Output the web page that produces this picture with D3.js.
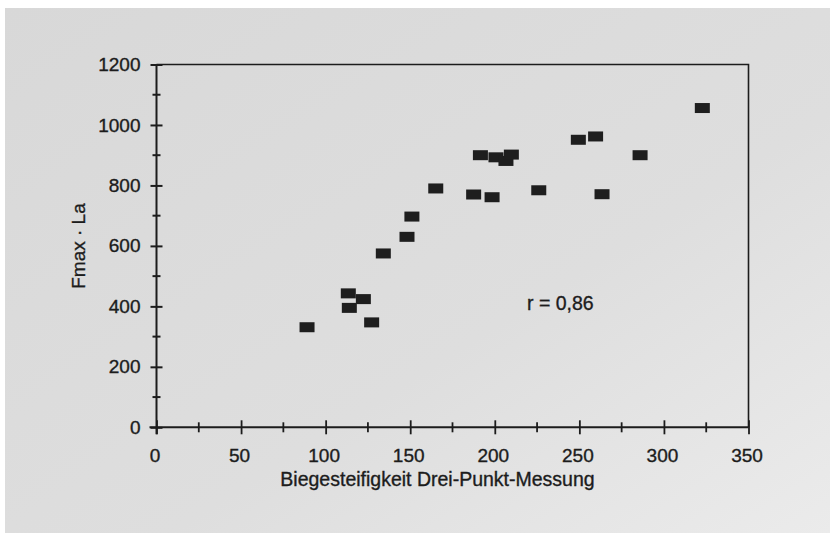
<!DOCTYPE html>
<html><head><meta charset="utf-8">
<script src="https://cdn.jsdelivr.net/npm/d3@7"></script>
<style>html,body{margin:0;padding:0;background:#fff;}svg{display:block;}</style>
</head><body>
<svg id="chart" width="830" height="533"></svg>
<script>
// Data
const xValues = [322.7, 249.4, 259.6, 285.9, 191.5, 200.7, 206.6, 209.8, 165.1, 187.5, 198.4, 226.0, 263.4, 151.0, 148.1, 134.1, 113.4, 122.3, 114.0, 127.2, 89.0];
const yValues = [1056, 951, 962, 900, 900, 893, 881, 902, 790, 770, 761, 784, 771, 697, 630, 575, 443, 424, 395, 347, 331];
const xTicks = [0, 50, 100, 150, 200, 250, 300, 350];
const xMinor = [25, 75, 125, 175, 225, 275, 325];
const yTicks = [0, 200, 400, 600, 800, 1000, 1200];
const yMinor = [100, 300, 500, 700, 900, 1100];
const xTitle = "Biegesteifigkeit Drei-Punkt-Messung";
const yTitle = "Fmax · La";
const annotation = "r = 0,86";

const W = 830, H = 533;
const m = {left: 156.5, top: 64.5, right: 748.5, bottom: 427.3};
const svg = d3.select("#chart");

const defs = svg.append("defs");
const grad = defs.append("linearGradient").attr("id","bg").attr("x1","0").attr("y1","0").attr("x2","1").attr("y2","1");
grad.append("stop").attr("offset","0").attr("stop-color","#d8d8d8");
grad.append("stop").attr("offset","0.6").attr("stop-color","#dedede");
grad.append("stop").attr("offset","1").attr("stop-color","#ebebeb");

svg.append("rect").attr("width",W).attr("height",H).attr("fill","#ffffff");
svg.append("rect").attr("x",5).attr("y",8).attr("width",W-5).attr("height",H-8).attr("fill","url(#bg)");

const x = d3.scaleLinear().domain([0,350]).range([m.left, m.right]);
const y = d3.scaleLinear().domain([0,1200]).range([m.bottom, m.top]);

const ink = "#1c1c1c";
const font = "'Liberation Sans', Arial, sans-serif";
function styleText(sel, size){
  sel.attr("font-family",font).attr("font-size",size).attr("fill",ink)
     .attr("stroke",ink).attr("stroke-width",0.35);
}

// frame top & right
svg.append("path")
  .attr("d", `M${m.left},${m.top}H${m.right}V${m.bottom}`)
  .attr("fill","none").attr("stroke",ink).attr("stroke-width",1.6);

// y axis
const yAxis = svg.append("g").attr("transform",`translate(${m.left},0)`)
  .call(d3.axisLeft(y).tickValues(yTicks).tickSize(6).tickPadding(10).tickFormat(d3.format("d")));
yAxis.select(".domain").remove();
yAxis.append("line").attr("x1",0).attr("x2",0).attr("y1",y(0)+7).attr("y2",y(1200)).attr("stroke",ink).attr("stroke-width",2);
yAxis.selectAll(".tick line").attr("x1",-6).attr("x2",6).attr("stroke",ink).attr("stroke-width",2);
styleText(yAxis.selectAll(".tick text"), 19);
yAxis.selectAll(".minor").data(yMinor).enter().append("line")
  .attr("x1",-4).attr("x2",4).attr("y1",d=>y(d)).attr("y2",d=>y(d)).attr("stroke",ink).attr("stroke-width",2);

// x axis
const xAxis = svg.append("g").attr("transform",`translate(0,${m.bottom})`)
  .call(d3.axisBottom(x).tickValues(xTicks).tickSize(7).tickPadding(14).tickFormat(d3.format("d")));
xAxis.select(".domain").remove();
xAxis.append("line").attr("x1",x(0)-7).attr("x2",x(350)).attr("y1",0).attr("y2",0).attr("stroke",ink).attr("stroke-width",2);
xAxis.selectAll(".tick line").attr("y1",-7).attr("y2",7).attr("stroke",ink).attr("stroke-width",1.8);
styleText(xAxis.selectAll(".tick text"), 19);
xAxis.selectAll(".tick text").attr("dx",-2);
xAxis.selectAll(".minor").data(xMinor).enter().append("line")
  .attr("x1",d=>x(d)).attr("x2",d=>x(d)).attr("y1",-5).attr("y2",5).attr("stroke",ink).attr("stroke-width",1.8);

// titles
styleText(svg.append("text").attr("x",437.5).attr("y",486)
  .attr("text-anchor","middle").text(xTitle), 19.5);
styleText(svg.append("text").attr("transform",`translate(85,246) rotate(-90)`)
  .attr("text-anchor","middle").text(yTitle), 19);
styleText(svg.append("text").attr("x",527).attr("y",310).text(annotation), 19.5);

// markers
const pts = xValues.map((v,i)=>({x:v, y:yValues[i]}));
svg.append("g").selectAll("rect").data(pts).enter().append("rect")
  .attr("x",d=>x(d.x)-7.5).attr("y",d=>y(d.y)-5).attr("width",15).attr("height",10)
  .attr("fill","#1e1e1e");
</script>
</body></html>
